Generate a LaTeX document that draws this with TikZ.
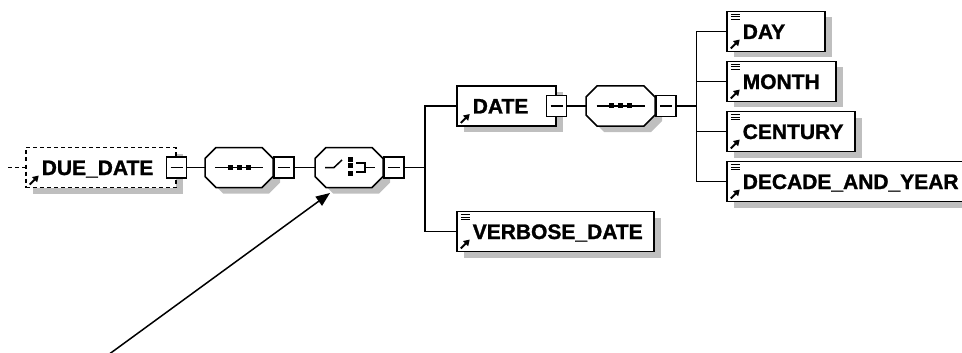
\documentclass[tikz,border=0pt]{standalone}
\usepackage{fontspec}
\newfontfamily\xsdfont{Liberation Sans}[FakeBold=1.2]
\usetikzlibrary{arrows.meta,shadows}

% small marks inside the element boxes
\newcommand{\refmark}{%
  \draw[solid, line width=2pt, -{Triangle[length=6pt,width=7pt]}]
    ([shift={(4pt,3pt)}]path picture bounding box.south west) -- ++(9pt,9pt);}
\newcommand{\typemark}{%
  \foreach \off in {3,5.5,8}
    \draw[solid, line width=1pt]
      ([shift={(4pt,-\off pt)}]path picture bounding box.north west) -- ++(9pt,0pt);}

% compositor outline and symbols
\newcommand{\octagon}[1]{%
  \filldraw[fill=white, boxshadow]
    ([xshift=11pt]#1.north west) -- ([xshift=-11pt]#1.north east)
    -- ([yshift=-11pt]#1.north east) -- ([yshift=11pt]#1.south east)
    -- ([xshift=-11pt]#1.south east) -- ([xshift=11pt]#1.south west)
    -- ([yshift=11pt]#1.south west) -- ([yshift=-11pt]#1.north west) -- cycle;}
\newcommand{\seqicon}[1]{%
  \draw ([xshift=-24pt]#1.center) -- ([xshift=24pt]#1.center);
  \foreach \dx in {-9,0,9}
    \fill ([shift={(\dx pt-2.5pt,-2.5pt)}]#1.center) rectangle ++(5pt,5pt);}
\newcommand{\choiceicon}[1]{%
  \draw ([xshift=-24pt]#1.center) -- ([xshift=-15pt]#1.center)
    -- ([shift={(-7pt,7.5pt)}]#1.center);
  \foreach \dy in {8.5,2,-6}
    \fill ([shift={(-1.5pt,\dy pt-2.5pt)}]#1.center) rectangle ++(5pt,5pt);
  \draw ([shift={(7pt,4.5pt)}]#1.center) -| ([shift={(16pt,-4.5pt)}]#1.center)
    -- ([shift={(7pt,-4.5pt)}]#1.center);
  \draw ([xshift=16pt]#1.center) -- ([xshift=26pt]#1.center);}

\tikzset{
  boxshadow/.style={drop shadow={shadow xshift=7pt, shadow yshift=-6pt,
    fill=black!25, opacity=1, draw=none}},
  elem/.style={draw, fill=white, boxshadow, anchor=west, text width=#1,
    align=left, inner xsep=0pt, inner ysep=0pt, minimum height=40pt,
    text height=15pt, text depth=0pt,
    font=\xsdfont\bfseries\fontsize{21}{24}\selectfont,
    execute at begin node={\noindent\hspace*{16pt}},
    path picture={\refmark}},
  leaf/.style={elem=#1, path picture={\refmark\typemark}},
  collapse/.style={draw, fill=white, minimum width=20pt, minimum height=21pt,
    inner sep=0pt,
    path picture={\draw ([xshift=4pt]path picture bounding box.west)
      -- ([xshift=-4pt]path picture bounding box.east);}},
  compositor/.style={anchor=west, minimum width=#1, minimum height=40pt,
    inner sep=0pt, outer sep=0pt},
  optional/.style={dash pattern=on 4pt off 3pt}
}

\begin{document}
\begin{tikzpicture}[x=1pt, y=-1pt, line width=1.5pt]
\useasboundingbox (0,0) rectangle (962,353);
\clip (0,0) rectangle (962,353);

% root element
\coordinate (start) at (8,167.5);
\node[elem=150pt, optional] (dueDate) at (25,167.5) {DUE\_DATE};
\node[collapse] (dueMinus) at (dueDate.east) {};

% sequence, then choice
\node[compositor=68pt] (seqA) at (205,167.5) {};
\octagon{seqA}
\seqicon{seqA}
\node[collapse, anchor=west] (seqAMinus) at (seqA.east) {};

\node[compositor=68pt] (choice) at (315,167.5) {};
\octagon{choice}
\choiceicon{choice}
\node[collapse, anchor=west] (choiceMinus) at (choice.east) {};

% DATE and its sequence
\node[elem=99pt] (date) at (456,106) {DATE};
\node[collapse] (dateMinus) at (date.east) {};

\node[compositor=69pt] (seqB) at (586,106) {};
\octagon{seqB}
\seqicon{seqB}
\node[collapse, anchor=west] (seqBMinus) at (seqB.east) {};

% leaves
\node[leaf=98pt] (day) at (726,31.5) {DAY};
\node[leaf=109pt] (month) at (726,81.5) {MONTH};
\node[leaf=128pt] (century) at (726,131.5) {CENTURY};
\node[leaf=250pt] (decade) at (726,181.5) {DECADE\_AND\_YEAR};
\node[leaf=197pt] (verbose) at (456,231.5) {VERBOSE\_DATE};

% connectors
\coordinate (busA) at (425,167.5);
\coordinate (busB) at (696.5,106);
\draw[optional] (start) -- (dueDate.west);
\draw (dueMinus) -- (seqA);
\draw (seqAMinus) -- (choice);
\draw (choiceMinus) -- (busA);
\draw (busA) |- (date.west);
\draw (busA) |- (verbose.west);
\draw (dateMinus) -- (seqB);
\draw (seqBMinus) -- (busB);
\foreach \leaf in {day,month,century,decade}
  \draw (busB) |- (\leaf.west);

% pointer
\coordinate (tail) at (108,355);
\coordinate (tip) at (330,193);
\draw[line width=1.5pt, -{Triangle[length=14pt,width=11pt]}] (tail) -- (tip);

\end{tikzpicture}
\end{document}
